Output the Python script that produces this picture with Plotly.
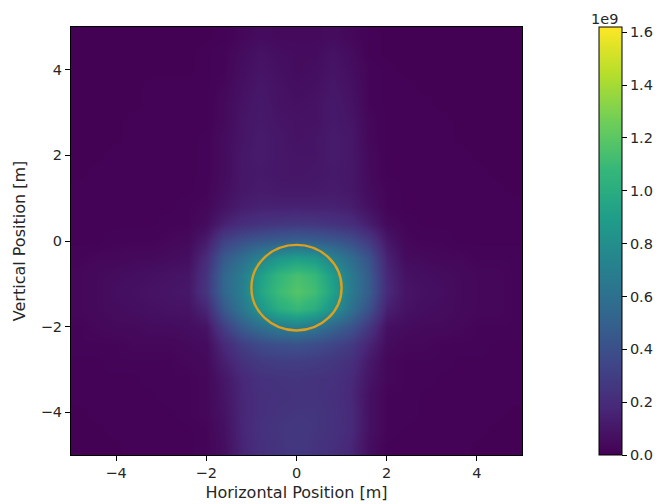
import plotly.graph_objects as go

x_centers = [-4.8,-4.4,-4.0,-3.6,-3.2,-2.8,-2.4,-2.0,-1.6,-1.2,-0.8,-0.4,0.0,0.4,0.8,1.2,1.6,2.0,2.4,2.8,3.2,3.6,4.0,4.4,4.8]
y_centers = [4.8,4.4,4.0,3.6,3.2,2.8,2.4,2.0,1.6,1.2,0.8,0.4,0.0,-0.4,-0.8,-1.2,-1.6,-2.0,-2.4,-2.8,-3.2,-3.6,-4.0,-4.4,-4.8]
# Intensity in units of 1e9
intensity = [
 [.005,.005,.005,.005,.005,.005,.005,.005,.01,.03,.05,.04,.04,.04,.05,.03,.01,.005,.005,.005,.005,.005,.005,.005,.005],
 [.005,.005,.005,.005,.005,.005,.005,.01,.02,.05,.08,.06,.05,.05,.08,.05,.01,.005,.005,.005,.005,.005,.005,.005,.005],
 [.005,.005,.005,.005,.005,.005,.005,.01,.02,.06,.09,.07,.05,.06,.09,.06,.02,.01,.005,.005,.005,.005,.005,.005,.005],
 [.005,.005,.005,.005,.01,.01,.01,.01,.03,.07,.10,.08,.06,.07,.10,.07,.02,.01,.01,.005,.005,.005,.005,.005,.005],
 [.005,.005,.005,.005,.01,.01,.01,.01,.04,.08,.11,.08,.07,.08,.11,.08,.02,.01,.01,.01,.005,.005,.005,.005,.005],
 [.005,.005,.005,.01,.01,.01,.01,.01,.04,.09,.11,.09,.08,.08,.11,.09,.03,.01,.01,.01,.01,.005,.005,.005,.005],
 [.005,.005,.005,.01,.01,.01,.01,.015,.05,.09,.12,.10,.08,.09,.12,.10,.03,.01,.01,.01,.01,.005,.005,.005,.005],
 [.005,.005,.01,.01,.01,.01,.01,.015,.05,.10,.12,.10,.09,.09,.12,.10,.04,.01,.01,.01,.01,.01,.005,.005,.005],
 [.005,.01,.01,.01,.01,.01,.01,.015,.05,.10,.11,.10,.09,.10,.11,.10,.04,.01,.01,.01,.01,.01,.01,.005,.005],
 [.01,.01,.01,.01,.01,.01,.01,.02,.06,.10,.12,.11,.11,.11,.12,.10,.05,.02,.01,.01,.01,.01,.01,.01,.005],
 [.01,.01,.01,.01,.01,.01,.02,.03,.08,.13,.15,.15,.15,.15,.15,.13,.07,.02,.01,.01,.01,.01,.01,.01,.01],
 [.01,.01,.01,.01,.01,.02,.02,.05,.15,.21,.24,.26,.27,.26,.24,.21,.13,.04,.02,.01,.01,.01,.01,.01,.01],
 [.01,.01,.02,.02,.02,.03,.04,.12,.32,.40,.45,.48,.50,.48,.45,.39,.28,.10,.03,.02,.02,.01,.01,.01,.01],
 [.02,.03,.03,.04,.04,.05,.06,.20,.46,.58,.72,.84,.90,.86,.71,.57,.41,.15,.05,.04,.03,.03,.02,.02,.02],
 [.03,.04,.05,.06,.07,.08,.09,.24,.53,.68,.90,1.06,1.14,1.08,.88,.66,.46,.18,.08,.06,.05,.04,.03,.03,.02],
 [.03,.04,.06,.07,.08,.09,.10,.25,.53,.70,.94,1.10,1.18,1.12,.92,.67,.47,.19,.09,.07,.06,.04,.03,.03,.02],
 [.03,.04,.05,.06,.07,.08,.08,.17,.45,.64,.84,1.00,1.08,1.00,.82,.60,.40,.14,.08,.06,.05,.04,.03,.03,.02],
 [.02,.03,.04,.04,.05,.05,.06,.08,.30,.47,.58,.66,.69,.63,.52,.42,.26,.07,.05,.04,.04,.03,.02,.02,.02],
 [.02,.02,.02,.03,.03,.03,.04,.05,.19,.30,.37,.40,.41,.38,.34,.28,.16,.05,.03,.03,.02,.02,.02,.01,.01],
 [.01,.01,.02,.02,.02,.02,.03,.04,.14,.23,.28,.30,.30,.29,.26,.22,.11,.03,.02,.02,.02,.01,.01,.01,.01],
 [.01,.01,.01,.01,.02,.02,.02,.03,.10,.18,.23,.24,.25,.24,.23,.19,.09,.03,.02,.02,.01,.01,.01,.01,.01],
 [.01,.01,.01,.01,.01,.02,.02,.03,.09,.17,.22,.23,.24,.24,.22,.18,.07,.02,.02,.01,.01,.01,.01,.01,.01],
 [.005,.01,.01,.01,.01,.01,.02,.03,.08,.17,.22,.24,.25,.25,.23,.19,.07,.02,.02,.01,.01,.01,.01,.01,.005],
 [.005,.005,.01,.01,.01,.01,.01,.02,.07,.17,.23,.25,.27,.25,.23,.19,.07,.02,.01,.01,.01,.01,.01,.005,.005],
 [.005,.005,.005,.01,.01,.01,.01,.02,.06,.16,.22,.24,.27,.24,.22,.17,.06,.01,.01,.01,.01,.01,.005,.005,.005],
]
colorbar_ticks = [0.0,0.2,0.4,0.6,0.8,1.0,1.2,1.4,1.6]
colorbar_labels = ["0.0","0.2","0.4","0.6","0.8","1.0","1.2","1.4","1.6"]
axis_ticks = [-4,-2,0,2,4]
axis_labels = ["\u22124","\u22122","0","2","4"]
circle_center = (0.0, -1.09)
circle_radius = 1.0
z_max = 1.62

tick_font = dict(family="DejaVu Sans", size=14.5, color="#262626")
title_font = dict(family="DejaVu Sans", size=16, color="#262626")
fig = go.Figure(go.Heatmap(
    x=x_centers, y=y_centers, z=intensity,
    colorscale="Viridis", zmin=0, zmax=z_max, zsmooth="best",
    colorbar=dict(
        x=1.1715, xanchor="left", y=0, yanchor="bottom", len=1, lenmode="fraction",
        thickness=22.5, thicknessmode="pixels",
        outlinecolor="#000", outlinewidth=1,
        tickmode="array", tickvals=colorbar_ticks, ticktext=colorbar_labels,
        ticks="outside", ticklen=5, tickcolor="#000", tickwidth=1, tickfont=tick_font,
        xpad=0, ypad=0),
))
fig.add_shape(type="circle", xref="x", yref="y",
              x0=circle_center[0]-circle_radius, x1=circle_center[0]+circle_radius,
              y0=circle_center[1]-circle_radius, y1=circle_center[1]+circle_radius,
              line=dict(color="#DDA01E", width=2.4))
fig.add_annotation(text="1e9", xref="paper", yref="paper", x=1.154, y=1.0,
                   xanchor="left", yanchor="bottom", showarrow=False, font=tick_font,
                   borderpad=0, borderwidth=0)
axis_style = dict(showline=True, mirror=True, linecolor="#000", linewidth=1,
                  ticks="outside", ticklen=5, tickcolor="#000", tickwidth=1,
                  showgrid=False, zeroline=False, tickmode="array",
                  tickvals=axis_ticks, ticktext=axis_labels, tickfont=tick_font)
fig.update_xaxes(range=[-5,5], title=dict(text="Horizontal Position [m]", font=title_font, standoff=6), **axis_style)
fig.update_yaxes(range=[-5,5], title=dict(text="Vertical Position [m]", font=title_font, standoff=11), **axis_style)
fig.update_layout(width=662, height=504, autosize=False,
                  margin=dict(l=70.5, r=139.5, t=27, b=49, autoexpand=False),
                  paper_bgcolor="#fff", plot_bgcolor="#440154", font=tick_font, showlegend=False)
fig.write_html("out.html", config=dict(displayModeBar=False),
               post_script="document.body.style.margin='0';document.body.style.overflow='hidden';")
